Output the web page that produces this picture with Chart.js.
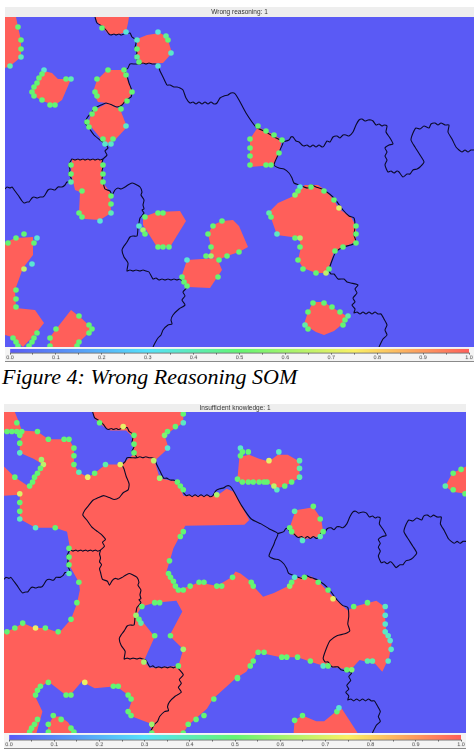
<!DOCTYPE html>
<html>
<head>
<meta charset="utf-8">
<script src="https://cdn.jsdelivr.net/npm/chart.js@4"></script>
<style>
  html, body { margin: 0; padding: 0; background: #fff; }
  body { position: relative; width: 476px; height: 752px; overflow: hidden; }
  canvas { position: absolute; }
  .bar { background: #f4f4f4; border-bottom: 1px solid #8a8a8a; }
  .head { background: #eeeeee; }
  .caption {
    position: absolute; left: 2px; top: 364px; white-space: nowrap;
    font: italic 22px "Liberation Serif", serif; color: #000;
  }
</style>
</head>
<body>
<canvas id="wrongMap" class="head" style="left:5px;top:7px"></canvas>
<canvas id="wrongBar" class="bar" style="left:5px;top:347px"></canvas>
<div class="caption">Figure 4: Wrong Reasoning SOM</div>
<canvas id="insufficientMap" class="head" style="left:4px;top:404px"></canvas>
<canvas id="insufficientBar" class="bar" style="left:4px;top:733px"></canvas>
<script>
// SOM grid extent, shared by both maps
var gridWidth = 469;
var gridHeight = 330;
var barTicks = [0, 0.1, 0.2, 0.3, 0.4, 0.5, 0.6, 0.7, 0.8, 0.9, 1];
var edgeLevel = 0.5;

// cluster borders, same for both maps
var clusterBorders = [
  [[90,0],[92,6],[97,9],[101,13],[104,17],[106,18],[109,17],[111,18],[114,17],[116,18],[119,17],[121,17],[125,16],[127,20],[130,22],[131,26],[130,31],[132,36],[130,40],[133,44],[135,47],[130,47],[125,47],[123,51],[120,54],[122,59],[124,66],[127,74],[126,80],[121,83],[117,88],[112,90],[107,88],[101,86],[96,88],[90,91],[86,96],[82,101],[80,106],[84,111],[89,118],[95,123],[99,126],[103,131],[100,134],[102,138],[98,142]],
  [[98,142],[95,143],[93,142],[90,143],[88,142],[85,143],[83,142],[80,143],[78,142],[75,143],[73,142],[70,143],[67,142],[64,148],[65,153],[64,157],[66,161],[67,165],[62,165],[60,168],[57,170],[53,170],[50,173],[46,172],[43,173],[40,178],[38,180],[35,180],[32,181],[29,180],[27,181],[24,185],[22,185],[19,186],[17,184],[13,178],[10,174],[7,170],[5,171],[2,170],[0,172]],
  [[98,142],[97,146],[98,150],[97,154],[99,157],[97,161],[98,165],[100,172],[105,174],[107,178],[110,173],[113,171],[116,172],[120,170],[123,168],[127,166],[130,167],[135,170],[137,175],[136,178],[139,183],[138,188],[139,192],[137,193],[139,196],[135,201],[134,206],[133,211],[132,219],[128,219],[125,220],[122,225],[119,229],[117,233],[119,240],[123,246],[122,254],[125,253],[128,254],[131,253],[135,254],[138,253],[141,254],[144,255],[148,262],[151,261],[154,263],[157,262],[160,263],[163,262],[166,263],[169,262],[172,263],[175,262],[182,270],[178,275],[180,279],[177,283],[180,288],[174,292],[168,298],[166,303],[167,307],[163,308],[158,313],[156,318],[153,321],[150,326],[148,330]],
  [[135,47],[138,46],[141,47],[144,46],[147,47],[150,47],[153,48],[155,54],[158,60],[162,68],[165,68],[169,70],[172,70],[175,71],[178,73],[181,81],[185,86],[188,85],[191,87],[194,85],[197,87],[200,85],[203,87],[206,85],[209,87],[212,86],[215,81],[219,79],[223,78],[226,76],[229,76],[231,78],[234,83],[241,96],[251,110],[261,115],[269,120],[278,125],[275,133],[274,136],[269,148],[274,151],[279,152],[284,156],[287,161],[289,166],[294,168],[299,170],[303,171],[306,168],[311,170],[314,171],[319,173],[329,181],[338,193],[344,199],[349,201],[350,210],[349,218],[351,225],[346,228],[338,230],[331,235],[328,241],[324,253],[326,257],[329,257],[333,262],[339,262],[342,265],[346,266],[353,268],[350,272],[352,276],[348,281],[350,285],[347,288],[350,292],[349,296],[352,295],[355,297],[358,295],[361,297],[364,295],[367,297],[370,295],[373,297],[376,297],[379,302],[382,308],[380,313],[382,318],[378,322],[374,330]],
  [[278,125],[284,123],[286,120],[288,120],[291,124],[294,125],[297,128],[299,129],[302,128],[305,130],[308,128],[311,130],[314,128],[317,130],[319,129],[322,124],[325,125],[328,120],[332,119],[335,121],[338,118],[341,118],[344,119],[348,115],[351,108],[354,103],[357,102],[360,104],[363,103],[366,103],[368,104],[371,108],[374,107],[377,109],[379,108],[382,109],[381,115],[385,121],[388,127],[384,128],[380,131],[382,135],[380,139],[382,143],[380,148],[383,155],[386,154],[389,156],[392,154],[394,155],[398,160],[402,157],[405,157],[408,153],[412,152],[415,150],[419,145],[415,138],[410,130],[406,123],[408,116],[411,111],[415,112],[419,109],[424,111],[426,107],[430,106],[433,108],[436,106],[440,108],[444,108],[443,115],[447,122],[451,130],[454,133],[457,135],[460,133],[463,135],[466,133],[469,133]]
];

// map 1: areas at the top of the scale
var wrongHigh = [
  [[0,0],[11,0],[13,10],[16,23],[16,40],[10,45],[5,49],[0,51]],
  [[90,0],[124,0],[123,6],[121,15],[115,17],[103,17],[98,11],[92,5]],
  [[132,22],[142,18],[155,16],[162,20],[167,36],[158,46],[137,47],[132,40]],
  [[39,54],[47,56],[53,62],[66,62],[57,83],[50,88],[37,84],[28,78],[26,75]],
  [[102,53],[119,53],[127,75],[122,85],[113,90],[102,86],[93,85],[88,75],[92,63]],
  [[95,90],[103,86],[115,92],[122,110],[110,123],[102,127],[97,123],[83,106],[87,96]],
  [[67,142],[97,142],[98,166],[105,175],[106,196],[95,203],[80,202],[74,196],[75,175],[70,173],[66,156]],
  [[138,200],[152,195],[175,194],[181,204],[165,230],[152,230],[138,208]],
  [[203,217],[208,208],[217,204],[228,203],[234,209],[243,230],[234,235],[222,239],[213,243],[205,238],[206,230]],
  [[182,243],[212,241],[217,253],[205,271],[183,270],[177,258]],
  [[0,226],[10,221],[28,220],[28,238],[18,251],[10,273],[11,291],[30,293],[39,306],[32,315],[18,330],[7,320],[0,318]],
  [[66,293],[75,300],[88,312],[73,326],[70,330],[45,330],[45,320],[52,311]],
  [[293,173],[300,168],[313,168],[320,173],[329,183],[334,192],[346,200],[351,209],[351,225],[338,230],[329,235],[324,250],[321,256],[311,256],[298,251],[293,243],[296,230],[294,221],[272,218],[266,201],[264,195],[273,186],[291,178]],
  [[308,285],[319,285],[328,291],[335,295],[343,300],[334,310],[329,314],[319,318],[311,315],[303,310],[299,307],[303,295]],
  [[245,122],[253,110],[261,114],[269,118],[277,123],[274,136],[269,148],[245,150]]
];

// map 1: single units on the region edges, [column, row, level]
var wrongEdges = [
  [13,10],[16,23],[16,32],[16,40,.4],[5,49,.42],[97,11],[121,15,.35],[132,23,.38],[132,32],[132,40,.44],[134,45],
  [153,15,.35],[161,19,.45],[163,23],[166,36,.37],[153,49,.36],[39,53,.36],[37,57],[34,61],[32,66],[29,70],[27,75],[29,79],[37,83],[45,88],[50,88],[61,62],[66,62,.4],
  [103,53],[119,53],[121,58],[92,62],[90,75],[92,79],[127,75],[122,84],[116,92],[90,92],[87,97],[82,105],[84,110],[121,109,.38],
  [98,122],[108,122],[100,127,.37],[106,127,.38],[66,148],[66,157],[66,165,.42],[98,148],[98,157],[98,165],
  [77,174],[106,179],[106,187],[106,196,.4],[74,196],[77,200],[95,204,.35],
  [140,200],[153,196],[158,196],[134,209,.37],[138,213,.6],[140,217],[153,230],[158,230],[164,230],
  [208,209],[217,204],[203,217],[206,230],[201,239],[206,239,.6],[222,239],[214,243],[213,260],[234,235],
  [182,243,.36],[177,260],[179,265],[182,269],[3,226],[11,221],[19,217],[29,226],[32,221,.35],[27,247,.36],[19,252,.65],[11,273],[11,282],[11,290],
  [8,321],[11,325],[13,329],[32,316],[29,321],[27,325],[24,329],[74,299],[84,308],[87,312],[84,316],[74,325],[72,329],[51,312],[45,321],[45,329],
  [253,109],[261,114],[269,118],[277,123],[245,122],[245,131],[245,139],[245,148],[274,136],[261,148],[266,148],
  [295,170,.36],[306,170],[319,174],[329,183],[334,191,.7],[290,178,.55],[293,174],
  [264,196,.42],[266,200],[272,217,.38],[290,221],[295,221,.62],[295,230],[293,243],[298,252],[311,256],[321,256,.65],[324,252],[330,234],[338,230],[351,209],[351,217],[351,226],
  [308,286],[319,286],[327,290],[335,295],[343,299,.42],[340,303],[338,308],[303,295],[300,308,.42],[303,312]
];

// map 2 is mostly high: low areas on top of it, then the high islands
var insufficientLow = [
  [[11,0],[90,0],[92,7],[101,15],[108,19],[124,19],[130,25],[132,43],[124,50],[118,54],[103,54],[92,63],[85,67],[76,62],[71,54],[71,37],[66,28],[45,28],[34,20],[18,19],[15,10]],
  [[0,21],[18,22],[16,32],[16,42],[30,48],[38,53],[26,77],[11,67],[0,56]],
  [[0,86],[16,85],[16,110],[32,119],[52,119],[64,123],[67,140],[66,157],[76,175],[77,183],[74,197],[68,213],[56,227],[42,222],[31,222],[19,217],[11,222],[0,227]],
  [[182,0],[469,0],[469,330],[182,330],[187,322],[206,305],[212,295],[235,274],[246,267],[252,257],[257,247],[281,252],[298,252],[312,257],[325,261],[352,265],[361,255],[377,259],[384,267],[391,252],[394,235],[388,226],[386,200],[378,194],[356,200],[349,204],[334,190],[320,175],[312,169],[295,170],[290,178],[274,186],[263,190],[254,180],[249,173],[240,166],[235,164],[231,170],[216,179],[198,175],[189,179],[175,183],[165,164],[168,154],[172,140],[184,117],[244,116],[249,111],[235,85],[233,82],[226,79],[216,86],[182,86],[177,72],[158,68],[153,50],[167,37],[163,24],[182,11]],
  [[45,277],[60,289],[69,289],[79,277],[92,284],[114,282],[126,291],[130,296],[126,308],[130,313],[148,320],[150,330],[72,330],[65,319],[57,313],[50,313],[45,322],[44,330],[33,330],[39,308],[31,291],[37,283]],
  [[140,200],[153,196],[175,194],[181,205],[168,230],[182,244],[177,261],[148,263],[142,256],[153,231],[138,212],[135,208]]
];
var insufficientHigh = [
  [[239,46],[249,44],[259,48],[269,51],[278,44],[288,44],[300,51],[300,67],[293,72],[285,76],[276,79],[268,73],[239,73],[237,68]],
  [[296,101],[314,98],[322,110],[324,123],[320,128],[303,131],[293,126],[290,119]],
  [[448,76],[455,63],[469,56],[469,84],[455,82]],
  [[295,317],[303,312],[317,318],[325,318],[337,308],[343,305],[359,330],[294,330]]
];

var insufficientEdges = [
  [13,11],[3,20],[8,20],[13,20],[18,20],[16,24],[16,32],[16,42,.38],[34,20],[45,28],[61,28],[66,28],[71,37],[71,45],[71,54],[76,62,.4],[85,67,.72],[92,63],[103,54,.42],[118,54,.7],
  [97,11],[121,15,.72],[132,24,.5],[132,33],[132,42],[152,50,.65],[158,68,.6],[176,72],[179,76],[182,80],[216,85,.62],
  [182,2],[182,11,.38],[174,15],[166,20],[163,24,.55],[166,37,.36],[38,49,.6],[40,54,.65],[37,58],[34,63],[31,67],[29,72],[26,76],
  [11,67],[16,84,.7],[16,93],[16,102],[16,110,.38],[32,119,.38],[52,119],[66,140],[66,149],[182,123],[179,128],[168,153],
  [66,157],[66,166,.4],[76,175],[74,196],[68,213],[55,226],[42,222],[32,222,.72],[19,217],[11,222],[3,226],
  [134,209,.6],[140,200],[137,213],[139,217,.42],[153,196],[158,196],[153,230],[169,230],[182,244,.6],[177,261],[142,257,.62],
  [167,166],[169,170],[172,174],[174,179],[177,183],[182,183],[189,179],[198,175],[203,175],[216,179],[221,179],[232,170],
  [237,273],[213,295],[203,312],[195,316],[187,321],[182,330],
  [45,278],[37,282],[34,286],[32,291],[63,291],[68,291],[82,278,.72],[111,282],[116,282],[126,291],[129,295],[126,308],[129,312],[150,321,.6],[150,330],
  [34,316],[31,321],[28,325],[26,329],[50,312],[45,321],[45,329],[58,316],[68,325],[71,329],
  [295,170,.37],[305,170],[290,179,.55],[292,175],[319,175],[251,175],[253,179],[329,183],[334,192,.72],[355,200],[369,196],[387,200,.38],[387,209,.37],[387,218,.37],[387,226,.38],[390,230,.38],[392,235,.37],[393,244,.38],[390,256,.38],[374,256,.42],[369,256,.42],
  [258,247],[264,247],[282,252],[287,252],[298,252],[311,256],[324,261,.38],[329,261],[348,265],[353,265,.55],[253,256],[250,261],[237,274],
  [295,317],[303,312],[338,308],[340,304,.36],
  [240,37,.37],[240,45],[242,41],[248,41],[279,41,.38],[269,50,.72],[300,50,.42],[300,58,.42],[300,67,.42],[292,72],[285,76],[277,80,.38],[274,76,.65],
  [237,69],[242,72],[248,72],[253,72],[259,72],[264,72],[267,72],
  [295,102,.42],[314,97],[321,110],[290,119],[292,123],[324,123],[321,128,.42],[303,132,.38],
  [448,76,.42],[456,63],[464,59],[456,80],[468,84]
];

// colour scale of the map, also used for the bar under it
var scaleStops = [
  [0, [90, 90, 245]],
  [0.3, [85, 225, 250]],
  [0.5, [100, 245, 115]],
  [0.75, [250, 240, 100]],
  [1, [255, 95, 90]]
];

function levelColor(level) {
  for (var i = 1; i < scaleStops.length; i++) {
    if (level <= scaleStops[i][0]) {
      var a = scaleStops[i - 1], b = scaleStops[i];
      var t = (level - a[0]) / (b[0] - a[0]);
      var c = a[1].map(function (v, k) { return Math.round(v + (b[1][k] - v) * t); });
      return "rgb(" + c.join(",") + ")";
    }
  }
  return "rgb(255,95,90)";
}

function toPoints(list) {
  return list.map(function (p) { return {x: p[0], y: p[1], level: p[2] === undefined ? edgeLevel : p[2]}; });
}

function areaSets(list, level, order) {
  return list.map(function (area) {
    return {
      data: toPoints(area), showLine: true, fill: "shape", order: order,
      backgroundColor: levelColor(level), borderWidth: 0, pointRadius: 0, tension: 0
    };
  });
}

// paints the plot area with the level of the background
var plotBackground = {
  id: "plotBackground",
  beforeDatasetsDraw: function (chart, args, opts) {
    var a = chart.chartArea;
    chart.ctx.fillStyle = levelColor(opts.level);
    chart.ctx.fillRect(a.left, a.top, a.width, a.height);
  }
};

function drawMap(id, width, height, titleText, titlePad, baseLevel, areas, edges) {
  var canvas = document.getElementById(id);
  canvas.style.width = width + "px";
  canvas.style.height = height + "px";
  canvas.width = width;
  canvas.height = height;
  var sets = areas.slice();
  clusterBorders.forEach(function (line) {
    sets.push({
      data: toPoints(line), showLine: true, fill: false, order: 1,
      borderColor: "#0a0a28", borderWidth: 1.1, pointRadius: 0, tension: 0.2
    });
  });
  sets.push({
    data: toPoints(edges), order: 0, pointRadius: 2.8, pointBorderWidth: 0,
    pointBackgroundColor: function (ctx) { return levelColor(ctx.raw.level); }
  });
  new Chart(canvas, {
    type: "scatter",
    data: {datasets: sets},
    plugins: [plotBackground],
    options: {
      responsive: false,
      animation: false,
      events: [],
      layout: {autoPadding: false},
      scales: {
        x: {display: false, min: 0, max: gridWidth},
        y: {display: false, min: 0, max: gridHeight, reverse: true}
      },
      plugins: {
        plotBackground: {level: baseLevel},
        legend: {display: false},
        tooltip: {enabled: false},
        title: {
          display: true, text: titleText, color: "#333",
          font: {family: "Liberation Sans", size: 6.5, weight: "normal"},
          padding: titlePad
        }
      }
    }
  });
}

function drawBar(id, width, height) {
  var canvas = document.getElementById(id);
  canvas.style.width = width + "px";
  canvas.style.height = height + "px";
  canvas.width = width;
  canvas.height = height;
  new Chart(canvas, {
    type: "bar",
    data: {
      labels: ["level"],
      datasets: [{
        data: [1],
        barPercentage: 1,
        categoryPercentage: 1,
        backgroundColor: function (ctx) {
          var a = ctx.chart.chartArea;
          if (!a) return "#fff";
          var g = ctx.chart.ctx.createLinearGradient(a.left, 0, a.right, 0);
          scaleStops.forEach(function (s) { g.addColorStop(s[0], levelColor(s[0])); });
          return g;
        }
      }]
    },
    options: {
      indexAxis: "y",
      responsive: false,
      animation: false,
      events: [],
      layout: {padding: {left: 5, right: 5, top: 2, bottom: 0}},
      scales: {
        y: {display: false},
        x: {
          min: 0, max: 1,
          afterFit: function (scale) { scale.height = 9; },
          afterBuildTicks: function (scale) {
            var all = [];
            barTicks.forEach(function (t, i) {
              all.push({value: t});
              if (i < barTicks.length - 1) all.push({value: (t + barTicks[i + 1]) / 2});
            });
            scale.ticks = all;
          },
          border: {color: "#777"},
          grid: {drawOnChartArea: false, tickLength: 2, color: "#555"},
          ticks: {
            autoSkip: false, maxRotation: 0, padding: 0, color: "#444",
            font: {family: "Liberation Sans", size: 5.5},
            callback: function (v) { return barTicks.indexOf(v) >= 0 ? v.toFixed(1) : ""; }
          }
        }
      },
      plugins: {legend: {display: false}, tooltip: {enabled: false}}
    }
  });
}

drawMap("wrongMap", 469, 340, "Wrong reasoning: 1", {top: 1, bottom: 1.2}, 0,
  areaSets(wrongHigh, 1, 2), wrongEdges);
drawBar("wrongBar", 469, 15);

drawMap("insufficientMap", 462, 329, "Insufficient knowledge: 1", {top: 0, bottom: 0.2}, 1,
  areaSets(insufficientHigh, 1, 2).concat(areaSets(insufficientLow, 0, 3)), insufficientEdges);
drawBar("insufficientBar", 462, 16);
</script>
</body>
</html>
